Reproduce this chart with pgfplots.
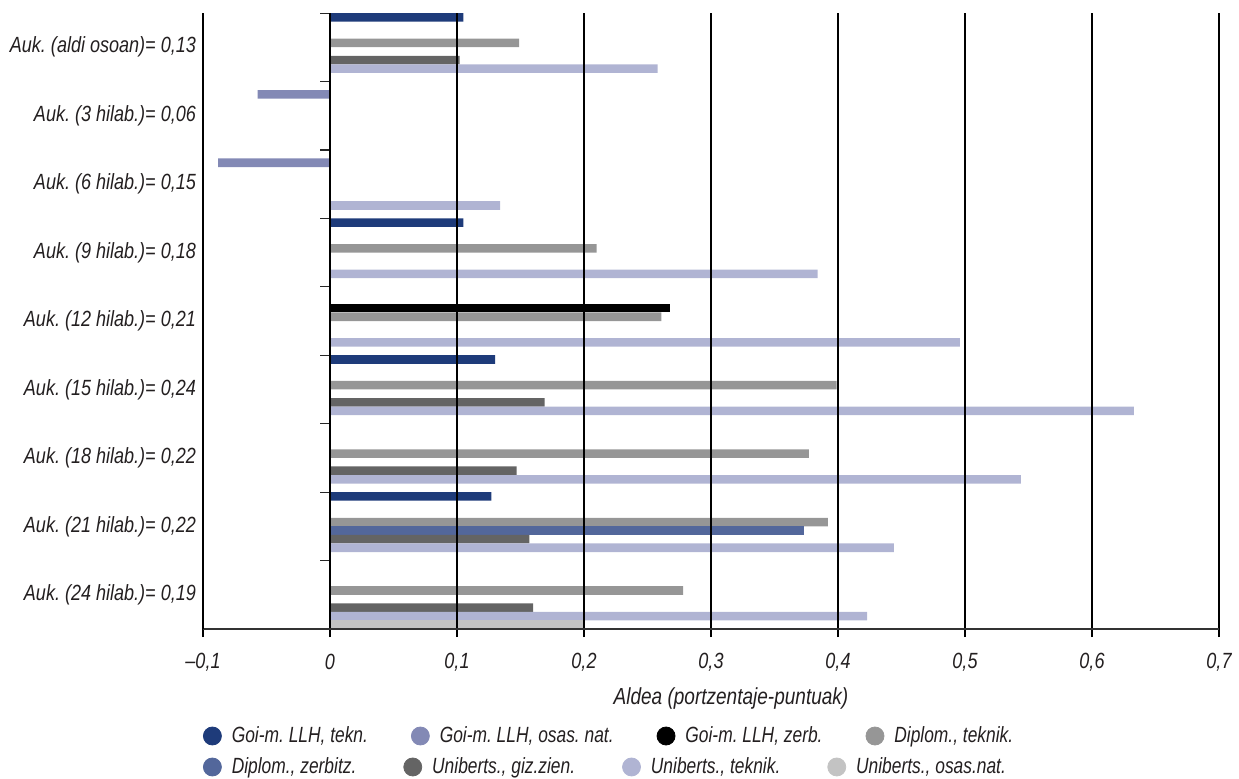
\documentclass[border=0pt]{standalone}
\usepackage{fontspec}
\setmainfont{Liberation Sans}[FakeStretch=0.82]
\newfontfamily\legfont{Liberation Sans}[FakeStretch=0.79]
\usepackage{pgfplots}
\pgfplotsset{compat=1.18}
\frenchspacing
\definecolor{c0}{HTML}{1E3B7A}
\definecolor{c1}{HTML}{8389B5}
\definecolor{c2}{HTML}{000000}
\definecolor{c3}{HTML}{969696}
\definecolor{c4}{HTML}{53679B}
\definecolor{c5}{HTML}{646464}
\definecolor{c6}{HTML}{B0B4D3}
\definecolor{c7}{HTML}{C3C3C3}
\definecolor{txt}{HTML}{231F20}
\pgfplotsset{
  mybar/.style={xbar, bar width=0.125, draw=none, bar shift=#1},
  legrow/.style={at={(0,0)}, anchor=south west, scale only axis, width=508pt, height=308pt,
    xmin=0, xmax=1, ymin=0, ymax=1, hide axis, legend columns=4,
    legend style={anchor=west, draw=none, fill=none, inner sep=0pt, outer sep=0pt,
      text=txt, font=\legfont\fontsize{11}{13}\selectfont\itshape\frenchspacing,
      /tikz/every odd column/.append style={column sep=3pt},
      /tikz/every even column/.append style={column sep=#1}}},
  cleg/.style={legend image code/.code={\fill[#1] (4.5pt,0pt) circle[radius=4.5pt];}}
}
\begin{document}
\begin{tikzpicture}[font=\fontsize{11}{13}\selectfont\itshape, text=txt]
\path[use as bounding box] (-101.5pt,-74.5pt) rectangle (518pt,314.5pt);
\begin{axis}[
  at={(0,0)}, anchor=south west,
  scale only axis, width=508pt, height=308pt,
  xmin=-0.1, xmax=0.7, ymin=-0.5, ymax=8.5,
  axis on top,
  axis x line*=bottom, axis y line*=left,
  x axis line style={-, draw=black!80, line width=0.8pt},
  y axis line style={-, draw=black, line width=0.6pt},
  xtick={-0.1,0,0.1,0.2,0.3,0.4,0.5,0.6,0.7},
  xticklabels={{–0,1},{0},{0,1},{0,2},{0,3},{0,4},{0,5},{0,6},{0,7}},
  ytick={0,1,2,3,4,5,6,7,8},
  yticklabels={{Auk. (24 hilab.)= 0,19},{Auk. (21 hilab.)= 0,22},{Auk. (18 hilab.)= 0,22},{Auk. (15 hilab.)= 0,24},{Auk. (12 hilab.)= 0,21},{Auk. (9 hilab.)= 0,18},{Auk. (6 hilab.)= 0,15},{Auk. (3 hilab.)= 0,06},{Auk. (aldi osoan)= 0,13}},
  ytick style={draw=none},
  xtick align=outside, xtick style={black, line width=0.6pt}, major tick length=4pt,
  xticklabel style={anchor=center, yshift=-12.5pt, text=txt},
  yticklabel style={text=txt},
  xmajorgrids, major grid style={black, line width=0.6pt},
  xlabel={Aldea (portzentaje-puntuak)},
  xlabel style={at={(axis description cs:0.5,0)}, anchor=center, yshift=-34.5pt, xshift=10pt, text=txt, font=\fontsize{11.6}{13}\selectfont\itshape},
]
\addplot[mybar=0.4375, fill=c0] coordinates {(0.105,8) (0.105,5) (0.130,3) (0.127,1)};
\addplot[mybar=0.3125, fill=c1] coordinates {(-0.057,7) (-0.088,6)};
\addplot[mybar=0.1875, fill=c2] coordinates {(0.268,4)};
\addplot[mybar=0.0625, fill=c3] coordinates {(0.149,8) (0.210,5) (0.261,4) (0.399,3) (0.377,2) (0.392,1) (0.278,0)};
\addplot[mybar=-0.0625, fill=c4] coordinates {(0.373,1)};
\addplot[mybar=-0.1875, fill=c5] coordinates {(0.102,8) (0.169,3) (0.147,2) (0.157,1) (0.160,0)};
\addplot[mybar=-0.3125, fill=c6] coordinates {(0.258,8) (0.134,6) (0.384,5) (0.496,4) (0.633,3) (0.544,2) (0.444,1) (0.423,0)};
\addplot[mybar=-0.4375, fill=c7] coordinates {(0.200,0)};
\pgfplotsinvokeforeach{-0.5,0.5,1.5,2.5,3.5,4.5,5.5,6.5,7.5,8.5}{
  \draw[black!85, line width=0.6pt] (axis cs:0,#1) -- ++(-5pt,0pt);
}
\end{axis}
\begin{axis}[legrow=19.5pt, legend style={at={(0,-0.1737)}}]
\addlegendimage{cleg=c0}\addlegendentry{Goi-m. LLH, tekn.}
\addlegendimage{cleg=c1}\addlegendentry{Goi-m. LLH, osas. nat.}
\addlegendimage{cleg=c2}\addlegendentry{Goi-m. LLH, zerb.}
\addlegendimage{cleg=c3}\addlegendentry{Diplom., teknik.}
\end{axis}
\begin{axis}[legrow=21.5pt, legend style={at={(0,-0.2240)}}]
\addlegendimage{cleg=c4}\addlegendentry{Diplom., zerbitz.}
\addlegendimage{cleg=c5}\addlegendentry{Uniberts., giz.zien.}
\addlegendimage{cleg=c6}\addlegendentry{Uniberts., teknik.}
\addlegendimage{cleg=c7}\addlegendentry{Uniberts., osas.nat.}
\end{axis}
\end{tikzpicture}
\end{document}
